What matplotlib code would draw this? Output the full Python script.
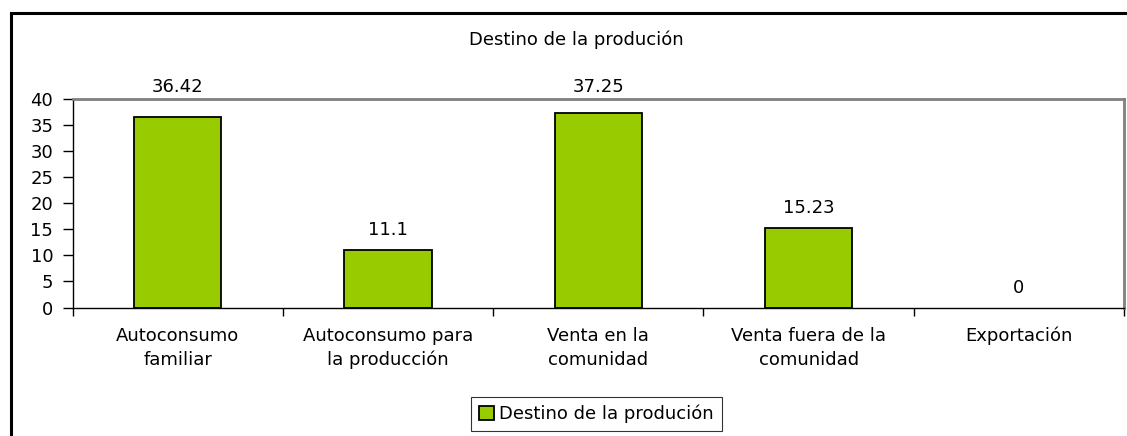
import matplotlib.pyplot as plt
from matplotlib.patches import Rectangle

categories = ['Autoconsumo\nfamiliar', 'Autoconsumo para\nla producción', 'Venta en la\ncomunidad',
              'Venta fuera de la\ncomunidad', 'Exportación']
values = [36.42, 11.1, 37.25, 15.23, 0]
value_labels = ['36.42', '11.1', '37.25', '15.23', '0']
series_name = 'Destino de la produción'
title = 'Destino de la produción'
yticks = [0, 5, 10, 15, 20, 25, 30, 35, 40]

plt.rcParams['font.family'] = ['DejaVu Sans']
fs = 13

fig = plt.figure(figsize=(11.27, 4.36), dpi=100)
ax = fig.add_axes([72.7 / 1127, 1 - 307.5 / 436, (1124 - 72.7) / 1127, (307.5 - 98.7) / 436])

# marco exterior del gráfico
top = 1 - 13 / 436
fig.patches.append(Rectangle((11 / 1127, -0.2), 1.2, top + 0.2, transform=fig.transFigure,
                             fill=False, edgecolor='black', linewidth=2.2))

x = list(range(len(values)))
lws = [1.3 if v > 0 else 0 for v in values]
ax.bar(x, values, width=0.415, color='#99CC00', edgecolor='black', linewidth=lws, label=series_name)

ax.set_xlim(-0.5, len(values) - 0.5)
ax.set_ylim(0, 40)
ax.set_yticks(yticks)
ax.set_xticks(x)
ax.set_xticklabels(categories, fontsize=fs, linespacing=1.4)
ax.set_xticks([i - 0.5 for i in range(len(values) + 1)], minor=True)
ax.tick_params(axis='x', which='major', length=0, pad=14)
ax.tick_params(axis='x', which='minor', length=6, width=1, direction='out')
ax.tick_params(axis='y', length=7, width=1, direction='out', labelsize=fs, pad=7)

for s in ['left', 'bottom']:
    ax.spines[s].set_color('black')
    ax.spines[s].set_linewidth(1)
for s in ['top', 'right']:
    ax.spines[s].set_color('#808080')
    ax.spines[s].set_linewidth(2)

for xi, v, lab in zip(x, values, value_labels):
    y = v + 2.1 if v < 35 else 40.6
    ax.text(xi, y, lab, ha='center', va='bottom', fontsize=fs, clip_on=False)

fig.text(576 / 1127, 1 - 40 / 436, title, ha='center', va='center', fontsize=fs)

handles, labels = ax.get_legend_handles_labels()
leg = fig.legend(handles, labels, loc='center', bbox_to_anchor=(596.5 / 1127, 1 - 414 / 436), fontsize=fs,
                 frameon=True, fancybox=False, edgecolor='black', handlelength=0.8,
                 handleheight=0.8, handletextpad=0.3, borderpad=0.45, borderaxespad=0)
leg.get_frame().set_linewidth(0.8)
for h in leg.legend_handles:
    h.set_linewidth(1.3)

fig.savefig('out.png', dpi=100)
